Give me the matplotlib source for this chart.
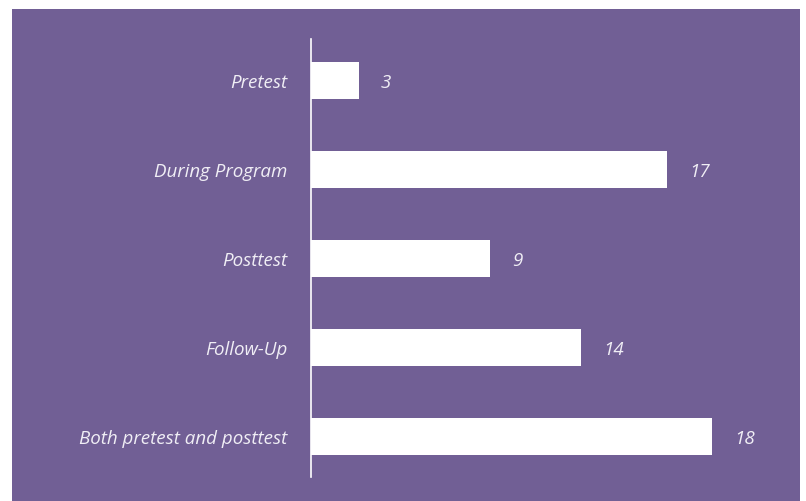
import matplotlib
matplotlib.use("Agg")
import matplotlib.pyplot as plt
from matplotlib.patches import Rectangle

# data
categories = ["Pretest", "During Program", "Posttest", "Follow-Up", "Both pretest and posttest"]
counts = [3, 17, 9, 14, 18]
# bar lengths as drawn in the source (not strictly proportional to the labels)
bar_lengths = [2.14, 15.97, 8.03, 12.12, 18.0]

PURPLE = "#715f95"
TEXT = "#f0eef5"
FONT = "Open Sans"
FS = 13.5

W, H = 806, 502
fig = plt.figure(figsize=(W / 100, H / 100), dpi=100)
fig.patch.set_facecolor("white")
fig.patches.append(Rectangle((12 / W, 0), (800 - 12) / W, (H - 10) / H,
                             transform=fig.transFigure, facecolor=PURPLE,
                             edgecolor="none", zorder=-1))

ax = fig.add_axes([311 / W, (H - 478) / H, (800 - 311) / W, (478 - 40) / H])
ax.set_facecolor("none")
ax.set_zorder(1)

y = list(range(len(categories)))
ax.barh(y, bar_lengths, height=0.415, color="white", edgecolor="none")

for yi, length, c in zip(y, bar_lengths, counts):
    ax.annotate(str(c), (length, yi), xytext=(22, 0), textcoords="offset pixels",
                ha="left", va="center_baseline", color=TEXT, fontsize=FS,
                fontstyle="italic", family=FONT)

ax.set_xlim(0, 21.95)
ax.set_ylim(4.457, -0.466)
ax.set_yticks(y)
ax.set_yticklabels(categories, fontsize=FS, fontstyle="italic", family=FONT,
                   color=TEXT, va="center_baseline")
ax.tick_params(axis="y", length=0, pad=17)
ax.set_xticks([])

for s in ["top", "right", "bottom"]:
    ax.spines[s].set_visible(False)
ax.spines["left"].set_color("white")
ax.spines["left"].set_linewidth(1.2)

fig.savefig("out.png", dpi=100)
